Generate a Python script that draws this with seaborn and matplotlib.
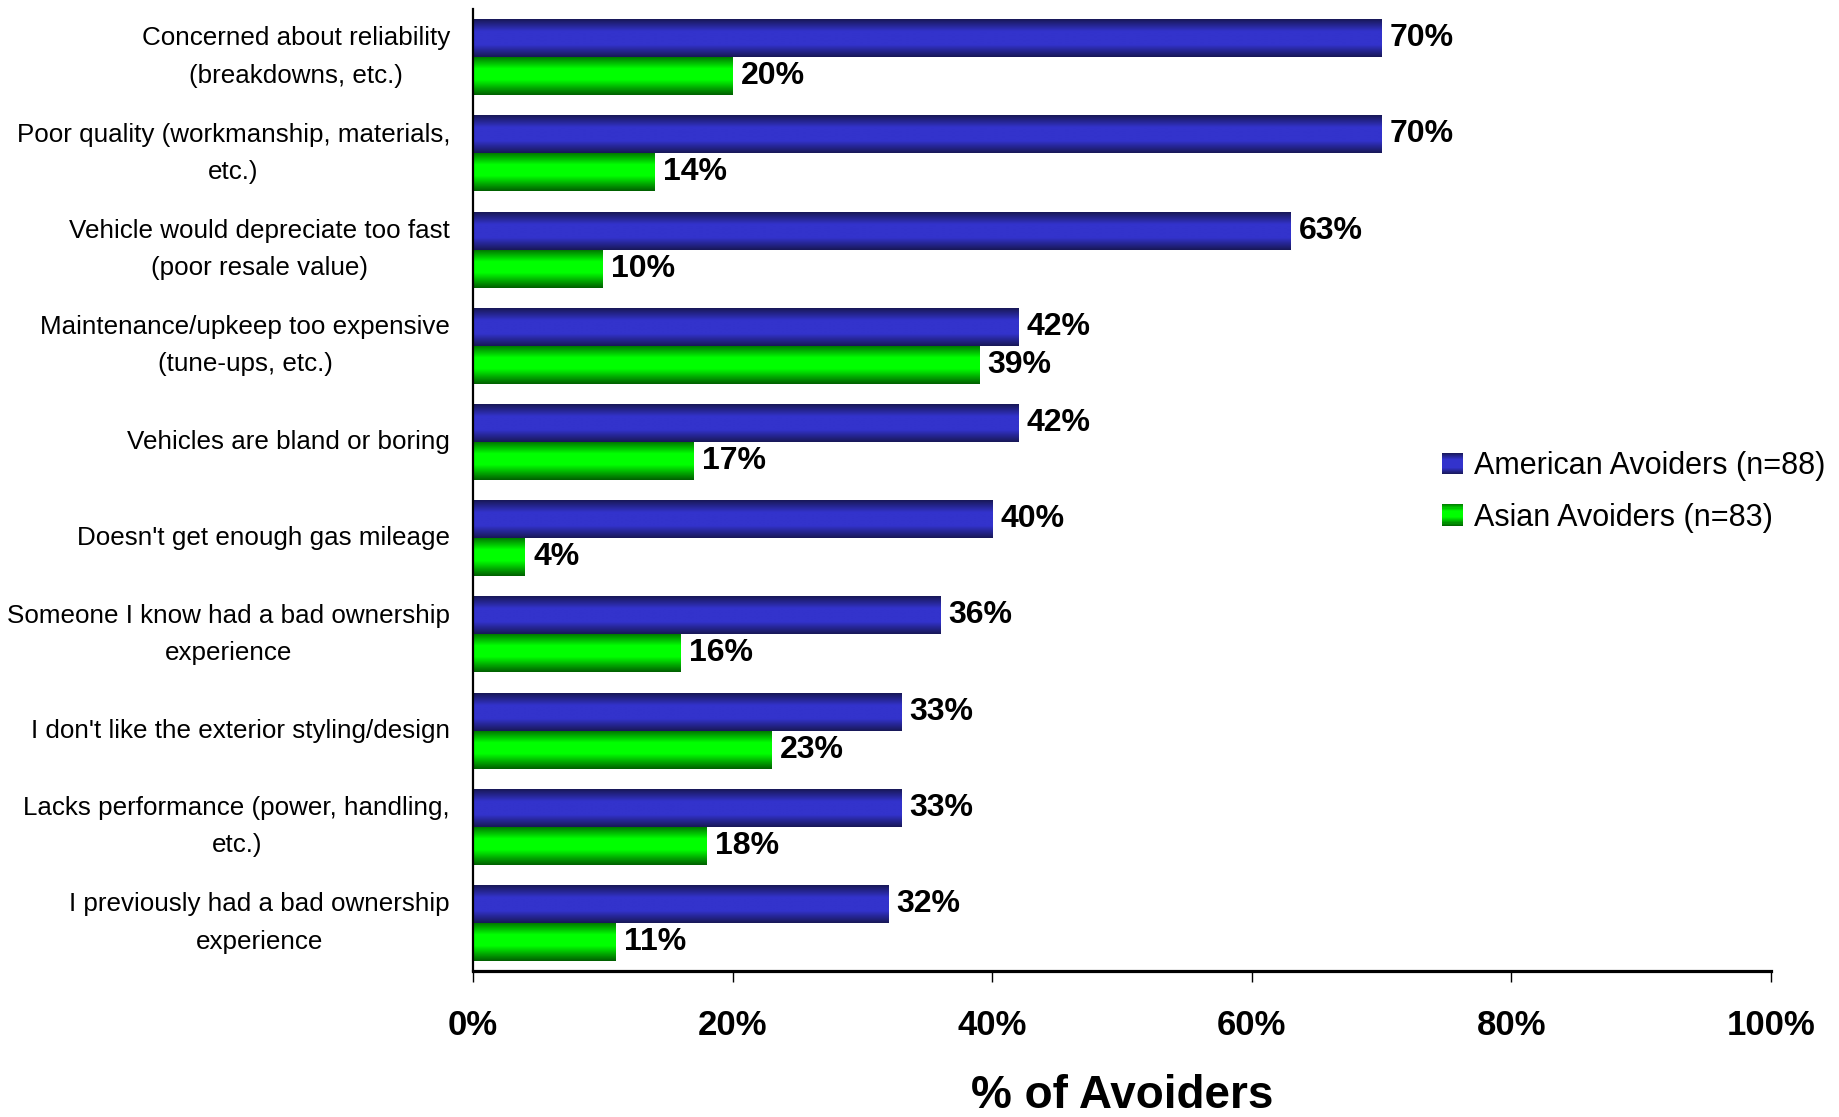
import numpy as np
import pandas as pd
import matplotlib
matplotlib.use("Agg")
import matplotlib.pyplot as plt
from matplotlib.colors import LinearSegmentedColormap
from matplotlib.patches import Patch, Rectangle
from matplotlib.legend_handler import HandlerBase
import seaborn as sns

# ---- data -------------------------------------------------------------
categories = [
    "Concerned about reliability\n(breakdowns, etc.)",
    "Poor quality (workmanship, materials,\netc.)",
    "Vehicle would depreciate too fast\n(poor resale value)",
    "Maintenance/upkeep too expensive\n(tune-ups, etc.)",
    "Vehicles are bland or boring",
    "Doesn't get enough gas mileage",
    "Someone I know had a bad ownership\nexperience",
    "I don't like the exterior styling/design",
    "Lacks performance (power, handling,\netc.)",
    "I previously had a bad ownership\nexperience",
]
american = [70, 70, 63, 42, 42, 40, 36, 33, 33, 32]
asian = [20, 14, 10, 39, 17, 4, 16, 23, 18, 11]
series_names = ["American Avoiders (n=88)", "Asian Avoiders (n=83)"]
x_ticks = [0, 20, 40, 60, 80, 100]
x_title = "% of Avoiders"

df = pd.DataFrame({
    "Reason": categories * 2,
    "Share": american + asian,
    "Group": [series_names[0]] * len(categories) + [series_names[1]] * len(categories),
})

# ---- styling ----------------------------------------------------------
blue_cmap = LinearSegmentedColormap.from_list(
    "blue_bar", [(0.0, "#181858"), (0.32, "#3333cc"), (0.68, "#3333cc"), (1.0, "#181858")])
green_cmap = LinearSegmentedColormap.from_list(
    "green_bar", [(0.0, "#007a00"), (0.3, "#00ff00"), (0.6, "#00ff00"), (1.0, "#006000")])
cmaps = [blue_cmap, green_cmap]

sns.set_theme(style="white")
plt.rcParams["font.family"] = ["Liberation Sans", "DejaVu Sans"]
plt.rcParams["text.color"] = "black"

fig = plt.figure(figsize=(18.39, 11.17), dpi=100)
ax = fig.add_axes([0.2572, 0.1307, 0.7058, 0.8612])

sns.barplot(data=df, y="Reason", x="Share", hue="Group", orient="h",
            palette=["#3333cc", "#00ff00"], saturation=1, width=0.79,
            legend=False, ax=ax)

ax.set_xlim(0, 100)
ylim = ax.get_ylim()

# vertical shading inside every bar
for cont, cmap in zip(ax.containers, cmaps):
    grad = cmap(np.linspace(0, 1, 64))[:, None, :3]
    for bar in cont:
        x0, y0 = bar.get_x(), bar.get_y()
        w, h = bar.get_width(), bar.get_height()
        im = ax.imshow(grad, extent=(x0, x0 + w, y0 + h, y0), origin="upper",
                       aspect="auto", interpolation="bilinear", zorder=bar.get_zorder() + 0.1)
        im.set_clip_path(bar)
ax.set_xlim(0, 100)
ax.set_ylim(ylim)

# value labels
for cont, vals in zip(ax.containers, [american, asian]):
    ax.bar_label(cont, labels=[f"{v}%" for v in vals], padding=6,
                 fontsize=23, fontweight="bold", color="black")

# axes
ax.set_xticks(x_ticks)
ax.set_xticklabels([f"{t}%" for t in x_ticks])
ax.tick_params(axis="x", direction="out", length=8, width=1, color="black",
               pad=19.5, labelsize=25, labelcolor="black", bottom=True)
for lab in ax.get_xticklabels():
    lab.set_fontweight("bold")
ax.tick_params(axis="y", length=0, pad=16.5, labelsize=18.7, labelcolor="black")
for lab in ax.get_yticklabels():
    lab.set_multialignment("center")
    lab.set_linespacing(1.7)
    lab.set_va("center")
ax.set_ylabel("")
ax.set_xlabel(x_title, fontsize=33, fontweight="bold", color="black")
ax.xaxis.label.set_va("baseline")
ax.xaxis.set_label_coords(0.5, -0.142)

for side in ["top", "right"]:
    ax.spines[side].set_visible(False)
ax.spines["left"].set_linewidth(1.6)
ax.spines["left"].set_color("black")
ax.spines["bottom"].set_linewidth(2.3)
ax.spines["bottom"].set_color("black")


class GradientSwatch(HandlerBase):
    def __init__(self, cmap, n=20):
        super().__init__()
        self.cmap = cmap
        self.n = n

    def create_artists(self, legend, orig_handle, xdescent, ydescent,
                       width, height, fontsize, trans):
        arts = []
        for i in range(self.n):
            y = -ydescent + height * (1 - (i + 1) / self.n)
            arts.append(Rectangle((-xdescent, y), width, height / self.n * 1.05,
                                  facecolor=self.cmap((i + 0.5) / self.n),
                                  edgecolor="none", transform=trans))
        return arts


handles = [Patch(facecolor="#3333cc"), Patch(facecolor="#00ff00")]
fig.legend(handles, series_names, loc="center left", bbox_to_anchor=(0.7841, 0.5595),
           frameon=False, fontsize=22, handlelength=0.7, handleheight=0.7,
           handletextpad=0.34, labelspacing=0.70, borderpad=0, borderaxespad=0,
           labelcolor="black",
           handler_map={handles[0]: GradientSwatch(blue_cmap),
                        handles[1]: GradientSwatch(green_cmap)})

fig.savefig("out.png", dpi=100, facecolor="white")
